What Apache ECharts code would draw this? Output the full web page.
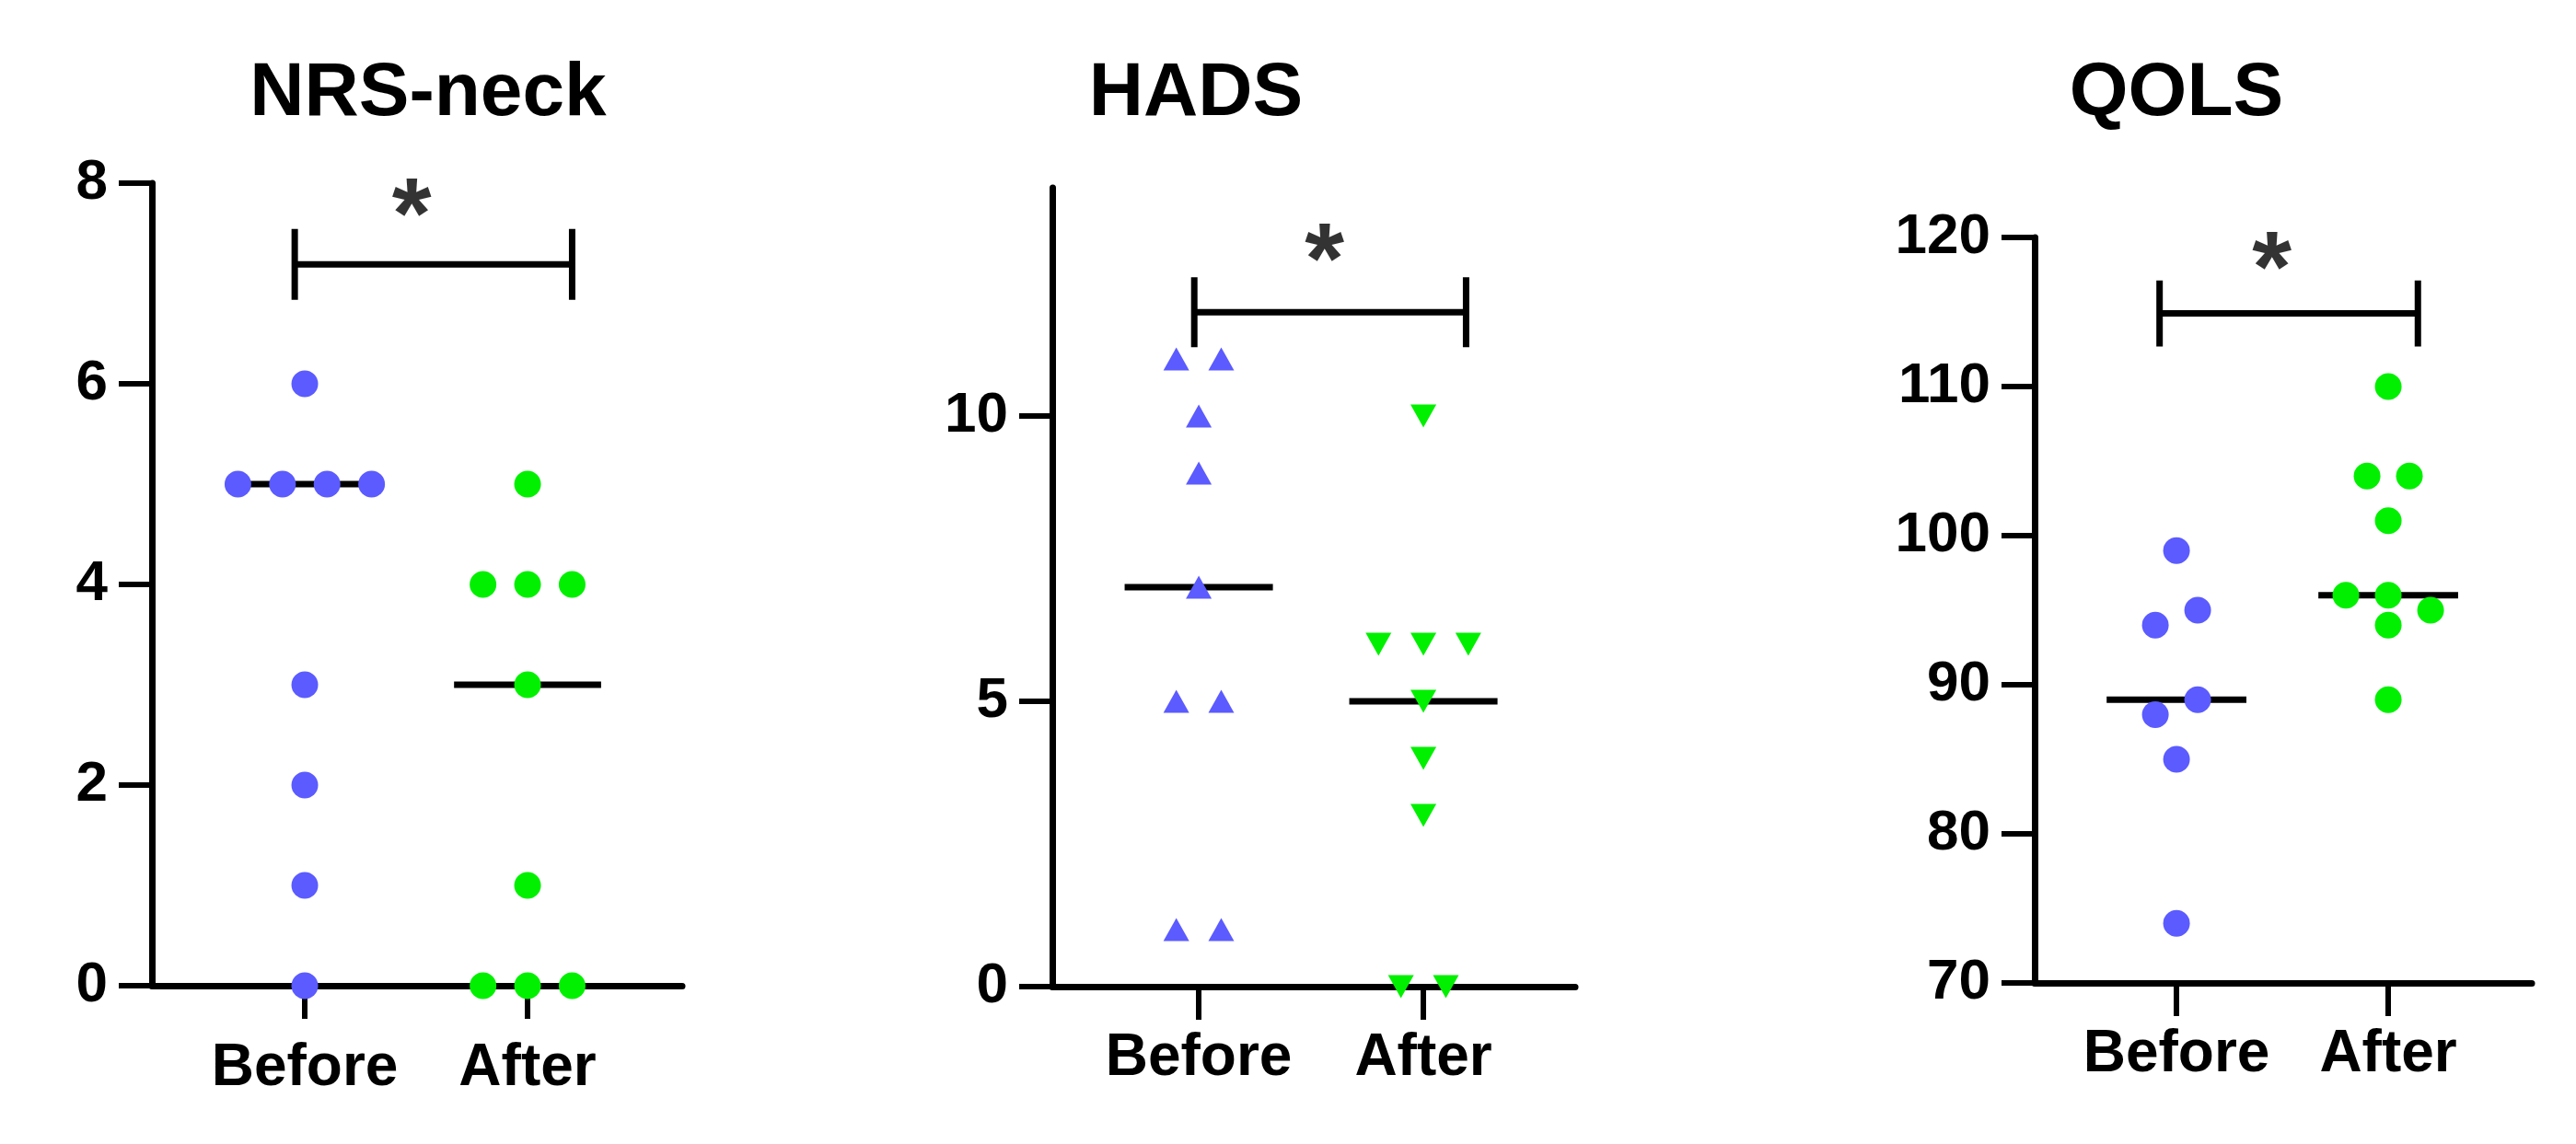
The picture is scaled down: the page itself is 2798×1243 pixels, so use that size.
<!DOCTYPE html>
<html>
<head>
<meta charset="utf-8">
<title>NRS-neck, HADS, QOLS</title>
<script src="https://cdn.jsdelivr.net/npm/echarts@6/dist/echarts.min.js"></script>
<style>
    html, body { margin: 0; padding: 0; background: #fff; }
    #chart { width: 2798px; height: 1243px; }
</style>
</head>
<body>
<div id="chart"></div>
<script>
const groups = ['Before', 'After'];

// NRS-neck
const nrsBefore = [6, 5, 5, 5, 5, 3, 2, 1, 0];
const nrsAfter = [5, 4, 4, 4, 3, 1, 0, 0, 0];
const nrsTicks = [0, 2, 4, 6, 8];

// HADS
const hadsBefore = [11, 11, 10, 9, 7, 5, 5, 1, 1];
const hadsAfter = [10, 6, 6, 6, 5, 4, 3, 0, 0];
const hadsTicks = [0, 5, 10];

// QOLS
const qolsBefore = [99, 95, 94, 89, 88, 85, 74];
const qolsAfter = [110, 104, 104, 101, 96, 96, 95, 94, 89];
const qolsTicks = [70, 80, 90, 100, 110, 120];

// sideways spread of overlapping dots, in dot slots
const nrsBeforeSpread = [0, -1.5, -0.5, 0.5, 1.5, 0, 0, 0, 0];
const nrsAfterSpread = [0, -1, 0, 1, 0, 0, -1, 0, 1];
const hadsBeforeSpread = [-0.5, 0.5, 0, 0, 0, -0.5, 0.5, -0.5, 0.5];
const hadsAfterSpread = [0, -1, 0, 1, 0, 0, 0, -0.5, 0.5];
const qolsBeforeSpread = [0, 0.5, -0.5, 0.5, -0.5, 0, 0];
const qolsAfterSpread = [0, -0.5, 0.5, 0, -1, 0, 1, 0, 0];

const FONT = "'Liberation Sans', Arial, sans-serif";
const BLUE = '#5b5bff';
const GREEN = '#00f000';
const SLOT = 0.2;       // one dot slot, in category units
const HALF_MEDIAN = 0.33;

const panels = [
    {
        title: 'NRS-neck', titleX: 460,
        values: [nrsBefore, nrsAfter], spread: [nrsBeforeSpread, nrsAfterSpread],
        ticks: nrsTicks, yMin: 0, yMax: 8,
        grid: { left: 165, top: 199, width: 576, height: 872 },
        xMin: 0.314, xMax: 2.694, labelMargin: 58,
        symbol: ['circle', 'circle'], rotate: [0, 0], size: [29, 29],
        bracket: { from: 0.955, to: 2.2, y: 7.19, cap: 0.353 },
        star: [1.48, 7.84]
    },
    {
        title: 'HADS', titleX: 1294,
        values: [hadsBefore, hadsAfter], spread: [hadsBeforeSpread, hadsAfterSpread],
        ticks: hadsTicks, yMin: 0, yMax: 14,
        grid: { left: 1143, top: 204, width: 568, height: 868 },
        xMin: 0.348, xMax: 2.676, labelMargin: 46,
        symbol: ['triangle', 'triangle'], rotate: [0, 180], size: [[28, 25], [28, 25]],
        bracket: { from: 0.98, to: 2.19, y: 11.82, cap: 0.613 },
        star: [1.56, 13.0]
    },
    {
        title: 'QOLS', titleX: 2359,
        values: [qolsBefore, qolsAfter], spread: [qolsBeforeSpread, qolsAfterSpread],
        ticks: qolsTicks, yMin: 70, yMax: 120,
        grid: { left: 2210, top: 258, width: 540, height: 810 },
        xMin: 0.33, xMax: 2.678, labelMargin: 46,
        symbol: ['circle', 'circle'], rotate: [0, 0], size: [29, 29],
        bracket: { from: 0.92, to: 2.14, y: 114.9, cap: 2.22 },
        star: [1.45, 118.95]
    }
];

function median(arr) {
    const s = arr.slice().sort((a, b) => a - b);
    const m = Math.floor(s.length / 2);
    return s.length % 2 ? s[m] : (s[m - 1] + s[m]) / 2;
}

const axisText = {
    color: '#000',
    fontFamily: FONT,
    fontWeight: 'bold',
    fontSize: 62
};

const grid = [];
const xAxis = [];
const yAxis = [];
const series = [];
const title = [];

panels.forEach((p, i) => {
    grid.push(Object.assign({ outerBoundsMode: 'none', containLabel: false }, p.grid));

    title.push({
        text: p.title,
        left: p.titleX,
        top: 56,
        textAlign: 'center',
        textStyle: { color: '#000', fontFamily: FONT, fontWeight: 'bold', fontSize: 82 }
    });

    xAxis.push({
        type: 'value',
        gridIndex: i,
        min: p.xMin,
        max: p.xMax,
        splitLine: { show: false },
        axisLine: { show: true, onZero: false, lineStyle: { color: '#000', width: 7 } },
        axisTick: {
            show: true,
            length: 36,
            customValues: [1, 2],
            lineStyle: { color: '#000', width: 6 }
        },
        axisLabel: {
            customValues: [1, 2],
            margin: p.labelMargin,
            color: '#000',
            fontFamily: FONT,
            fontWeight: 'bold',
            fontSize: 64,
            formatter: v => groups[Math.round(v) - 1] || ''
        }
    });

    yAxis.push({
        type: 'value',
        gridIndex: i,
        min: p.yMin,
        max: p.yMax,
        splitLine: { show: false },
        axisLine: { show: true, onZero: false, lineStyle: { color: '#000', width: 7 } },
        axisTick: {
            show: true,
            length: 36,
            customValues: p.ticks,
            lineStyle: { color: '#000', width: 6 }
        },
        axisLabel: Object.assign({ customValues: p.ticks, margin: 48 }, axisText)
    });

    // median lines
    p.values.forEach((vals, g) => {
        const med = median(vals);
        series.push({
            type: 'line',
            xAxisIndex: i,
            yAxisIndex: i,
            silent: true,
            symbol: 'none',
            z: 2,
            lineStyle: { color: '#000', width: 7 },
            data: [[g + 1 - HALF_MEDIAN, med], [g + 1 + HALF_MEDIAN, med]]
        });
    });

    // points
    p.values.forEach((vals, g) => {
        series.push({
            type: 'scatter',
            name: groups[g],
            xAxisIndex: i,
            yAxisIndex: i,
            symbol: p.symbol[g],
            symbolRotate: p.rotate[g],
            symbolSize: p.size[g],
            z: 3,
            itemStyle: { color: g === 0 ? BLUE : GREEN, opacity: 1 },
            data: vals.map((v, k) => [g + 1 + p.spread[g][k] * SLOT, v])
        });
    });

    // significance bracket
    const b = p.bracket;
    series.push({
        type: 'line',
        xAxisIndex: i,
        yAxisIndex: i,
        silent: true,
        symbol: 'none',
        z: 2,
        lineStyle: { color: '#000', width: 7, join: 'bevel' },
        data: [
            [b.from, b.y - b.cap], [b.from, b.y + b.cap], [b.from, b.y],
            [b.to, b.y], [b.to, b.y + b.cap], [b.to, b.y - b.cap]
        ]
    });

    series.push({
        type: 'scatter',
        xAxisIndex: i,
        yAxisIndex: i,
        silent: true,
        symbolSize: 0,
        label: {
            show: true,
            position: 'inside',
            formatter: '*',
            offset: [0, 22],
            color: '#000',
            fontFamily: FONT,
            fontWeight: 'bold',
            fontSize: 110
        },
        data: [p.star]
    });
});

const chart = echarts.init(document.getElementById('chart'));
chart.setOption({
    backgroundColor: '#fff',
    animation: false,
    title: title,
    grid: grid,
    xAxis: xAxis,
    yAxis: yAxis,
    series: series
});
</script>
</body>
</html>
